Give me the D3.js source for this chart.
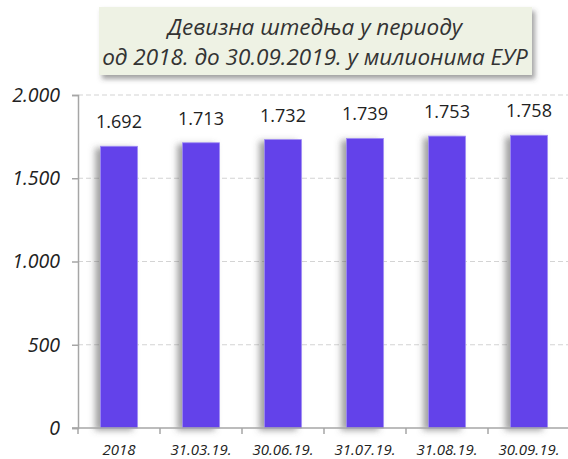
<!DOCTYPE html>
<html><head><meta charset="utf-8">
<script src="https://cdn.jsdelivr.net/npm/d3@7"></script>
<style>body{margin:0;background:#fff}svg{display:block}</style>
</head><body>
<script>
const categories = ["2018","31.03.19.","30.06.19.","31.07.19.","31.08.19.","30.09.19."];
const values = [1692,1713,1732,1739,1753,1758];
const valueLabels = ["1.692","1.713","1.732","1.739","1.753","1.758"];
const yTicks = [0,500,1000,1500,2000];
const yTickLabels = ["0","500","1.000","1.500","2.000"];
const titleLines = ["Девизна штедња у периоду","од 2018. до 30.09.2019. у милионима ЕУР"];

const FONT="'Open Sans', sans-serif";
const W=568,H=459;
const svg=d3.select("body").append("svg").attr("width",W).attr("height",H);
const defs=svg.append("defs");
const f1=defs.append("filter").attr("id","barsh").attr("x","-50%").attr("y","-10%").attr("width","200%").attr("height","130%");
f1.append("feDropShadow").attr("dx",-5).attr("dy",2).attr("stdDeviation",3).attr("flood-color","#555").attr("flood-opacity",0.55);
const f2=defs.append("filter").attr("id","boxsh").attr("x","-10%").attr("y","-20%").attr("width","130%").attr("height","160%");
f2.append("feDropShadow").attr("dx",3).attr("dy",4).attr("stdDeviation",2.5).attr("flood-color","#444").attr("flood-opacity",0.5);

const x=d3.scaleBand().domain(categories).range([78,570]).paddingInner(0.55).paddingOuter(0.275);
const y=d3.scaleLinear().domain([0,2000]).range([428,95]);

// gridlines
svg.append("g").selectAll("line").data(yTicks.filter(d=>d>0)).join("line")
  .attr("x1",78).attr("x2",568).attr("y1",d=>y(d)).attr("y2",d=>y(d))
  .attr("stroke","#d4d4d4").attr("stroke-width",1.2).attr("stroke-dasharray","5,3");

// bars
svg.append("g").selectAll("rect").data(values).join("rect")
  .attr("x",(d,i)=>x(categories[i])).attr("width",x.bandwidth())
  .attr("y",d=>y(d)).attr("height",d=>y(0)-y(d))
  .attr("fill","#6342EA").attr("stroke","#9d8af3").attr("stroke-width",0.8)
  .attr("filter","url(#barsh)");

// value labels
svg.append("g").selectAll("text").data(values).join("text")
  .attr("x",(d,i)=>x(categories[i])+x.bandwidth()/2).attr("y",d=>y(d)-18)
  .attr("text-anchor","middle").attr("font-family",FONT)
  .attr("font-size",18).attr("fill","#222").text((d,i)=>valueLabels[i]);

// y axis
const yAxis=d3.axisLeft(y).tickValues(yTicks).tickFormat((d,i)=>yTickLabels[i]).tickSize(6).tickPadding(12);
const gy=svg.append("g").attr("transform","translate(78,0)").call(yAxis);
gy.select(".domain").attr("stroke","#a6a6a6").attr("stroke-width",1.5);
gy.selectAll(".tick line").attr("stroke","#a6a6a6").attr("stroke-width",1.5);
gy.selectAll(".tick text").attr("font-family",FONT).attr("font-style","italic")
  .attr("font-size",19.5).attr("fill","#222");

// x axis
const xAxis=d3.axisBottom(x).tickSize(0).tickPadding(16);
const gx=svg.append("g").attr("transform","translate(0,428)").call(xAxis);
gx.select(".domain").remove();
gx.append("line").attr("x1",72).attr("x2",568).attr("y1",0).attr("y2",0).attr("stroke","#a6a6a6").attr("stroke-width",1.5);
gx.selectAll(".bnd").data(categories).join("line").attr("class","bnd")
  .attr("x1",d=>x(d)-x.step()*x.paddingInner()/2).attr("x2",d=>x(d)-x.step()*x.paddingInner()/2)
  .attr("y1",0).attr("y2",6).attr("stroke","#a6a6a6").attr("stroke-width",1.5);
gx.selectAll(".tick text").attr("font-family",FONT).attr("font-style","italic")
  .attr("font-size",15).attr("fill","#222");

// title box
svg.append("rect").attr("x",99).attr("y",7).attr("width",433).attr("height",68)
  .attr("fill","#EEF2E4").attr("filter","url(#boxsh)");
svg.append("g").selectAll("text").data(titleLines).join("text")
  .attr("x",315).attr("y",(d,i)=>35+i*30).attr("text-anchor","middle")
  .attr("font-family",FONT).attr("font-style","italic")
  .attr("font-size",22.5).attr("fill","#333").text(d=>d);
</script>
</body></html>
